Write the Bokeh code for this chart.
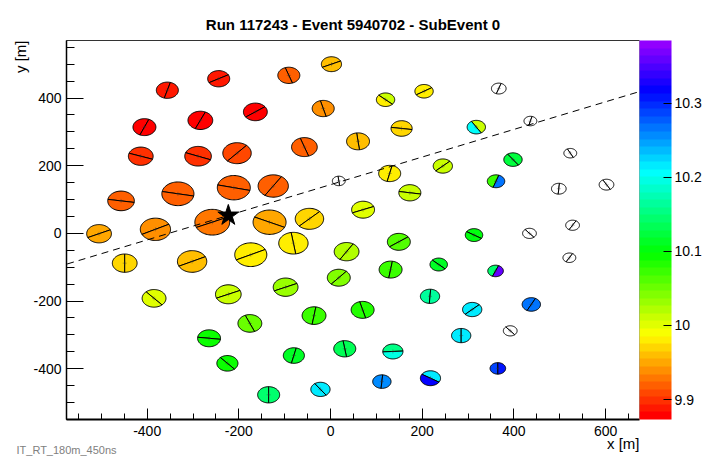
import colorsys
import numpy as np
from bokeh.plotting import figure
from bokeh.models import (Range1d, ColumnDataSource, LinearColorMapper, ColorBar,
                          FixedTicker, SingleIntervalTicker, PrintfTickFormatter,
                          Arrow, Title)
from bokeh.embed import file_html
from bokeh.resources import INLINE

nan = float("nan")

title_text = "Run 117243 - Event 5940702 - SubEvent 0"
x_label = "x [m]"
y_label = "y [m]"
footer_text = "IT_RT_180m_450ns"

# station centres [m], radius (charge) [m], tank-split angle [deg], tank times
stn_x = [-244, -356, -406, -284, -164, -414, -289, -204, -457, -333, -211, -258, -382, -505,
         2, -91, -16, -57, -125, 60, 18, 120, 204, 155, 129, 173, 71, -133, -46, 245,
         367, 436, 318, 398, 361, 523, 498, 602, 528, 434, 313, 149, 35, -81, -174,
         -449, -302, -385, -223, -98, 18, 131, 236, 217, 70, -36, -176, -265, 31, -80,
         -225, 136, 218, 112, -22, -135, 360, 309, 438, 392, 285, 365, 521]
stn_y = [457, 423, 314, 334, 359, 228, 228, 237, 96, 117, 135, 33, 12, -1,
         500, 467, 369, 255, 140, 272, 155, 395, 420, 310, 177, 120, 70, 33, 43, 199,
         428, 332, 314, 218, 154, 237, 132, 144, 24, 0, -5, -25, -54, -29, -63,
         -88, -83, -192, -180, -159, -131, -107, -92, -186, -226, -243, -266, -310, -341, -361,
         -384, -349, -428, -438, -461, -477, -111, -225, -210, -288, -302, -399, -72]
stn_r = [24, 24, 25, 27, 26, 27, 29, 31, 29, 35, 36, 38, 33, 27,
         22, 24, 24, 28, 33, 25, 14, 20, 20, 23, 24, 24, 25, 36, 31, 21,
         16, 14, 20, 20, 19, 14, 16, 16, 15, 15, 19, 25, 27, 32, 35,
         27, 32, 26, 28, 27, 25, 25, 19, 21, 25, 26, 26, 25, 24, 23,
         23, 22, 22, 20, 21, 24, 17, 21, 20, 15, 21, 17, 14]
tank_angle = [29, 74, 67, 66, 36, -19, -21, 48, -9, -11, -13, 24, 27, 25,
              25, -71, -75, -71, 57, -83, -83, -42, 32, -8, 77, -9, 22, -25, 44, 43,
              71, 75, -58, -54, 71, -63, 85, -60, 60, -50, -32, 36, 58, -81, 26,
              90, 26, -48, 24, 24, 49, 81, -43, 86, -75, 81, -67, -7, -81, 77,
              -48, 3, -32, 85, -54, 90, 67, 43, 63, -50, 90, 90, 60]
tank_a_time = [9.888, 9.891, 9.882, 9.875, 9.878, 9.895, 9.899, 9.904, 9.917, 9.921, 9.922, 9.932, 9.942, 9.952,
               9.959, 9.915, 9.941, 9.924, 9.922, 9.957, nan, 10.010, 9.979, 9.975, 9.979, 10.010, 10.005, 9.953, 9.972, 10.016,
               nan, nan, 10.016, 10.120, 10.074, nan, nan, nan, nan, nan, 10.102, 10.065, 10.019, 9.979, 9.977,
               9.968, 9.964, 10.005, 10.016, 10.028, 10.041, 10.070, 10.111, 10.166, 10.083, 10.074, 10.056, 10.089, 10.138, 10.111,
               10.092, 10.156, 10.220, 10.261, 10.211, 10.147, 10.147, 10.217, 10.266, nan, 10.220, 10.284, nan]
tank_b_time = [9.888, 9.891, 9.882, 9.875, 9.878, 9.895, 9.899, 9.904, 9.917, 9.921, 9.922, 9.932, 9.942, 9.952,
               9.959, 9.915, 9.941, 9.924, 9.922, 9.957, nan, 9.977, 9.979, 9.975, 9.979, 10.010, 10.005, 9.953, 9.972, 10.016,
               nan, nan, 10.208, 10.120, 10.266, nan, nan, nan, nan, nan, 10.102, 10.065, 10.019, 9.979, 9.977,
               9.968, 9.964, 10.005, 10.016, 10.028, 10.041, 10.070, 10.111, 10.166, 10.083, 10.074, 10.056, 10.089, 10.138, 10.111,
               10.092, 10.198, 10.321, 10.261, 10.211, 10.147, 10.363, 10.217, 10.266, nan, 10.220, 10.308, nan]

core_x, core_y = -223, 53
axis_dir_deg = 22.2
axis_x_extent = [-700, 700]

cbar_ticks = [9.9, 10.0, 10.1, 10.2, 10.3]
t_low, t_high = 9.873, 10.385

# ROOT "pretty" palette (50 HLS colours), red for low values
palette = []
for i in range(50):
    hue = i * 280.0 / 50
    r, g, b = colorsys.hls_to_rgb(hue / 360.0, 0.5, 1.0)
    palette.append("#%02x%02x%02x" % (round(r * 255), round(g * 255), round(b * 255)))

mapper = LinearColorMapper(palette=palette, low=t_low, high=t_high, nan_color="white")

# half-discs (one per tank) in data space
xs, ys, ts = [], [], []
for x, y, r, a, ta, tb in zip(stn_x, stn_y, stn_r, tank_angle, tank_a_time, tank_b_time):
    for start, t in ((a, ta), (a + 180, tb)):
        th = np.radians(np.linspace(start, start + 180, 41))
        xs.append(x + r * np.cos(th))
        ys.append(y + r * np.sin(th))
        ts.append(t)
src = ColumnDataSource(dict(xs=xs, ys=ys, t=np.array(ts, dtype=float)))

FONT = "Liberation Sans"

p = figure(width=709, height=458, output_backend="svg", toolbar_location=None,
           x_range=Range1d(-576, 674), y_range=Range1d(-550, 570),
           min_border_left=66, min_border_right=70, min_border_top=40, min_border_bottom=39)
p.xgrid.visible = False
p.ygrid.visible = False
p.background_fill_color = "white"
p.border_fill_color = "white"
p.outline_line_color = "#333333"
p.outline_line_width = 1

p.title.text = title_text
p.title.align = "center"
p.title.offset = 7
p.title.text_font = FONT
p.title.text_font_style = "bold"
p.title.text_font_size = "15px"
p.title.text_color = "black"
p.title.standoff = 15

p.xaxis.ticker = SingleIntervalTicker(interval=200, num_minor_ticks=4)
p.yaxis.ticker = SingleIntervalTicker(interval=200, num_minor_ticks=4)
for ax in (p.xaxis[0], p.yaxis[0]):
    ax.formatter = PrintfTickFormatter(format="%d")
    ax.major_tick_out = 0
    ax.minor_tick_out = 0
    ax.major_label_text_font = FONT
    ax.major_label_text_font_size = "14px"
    ax.major_label_text_color = "black"
    ax.axis_line_color = "black"
    ax.major_tick_line_color = "black"
    ax.minor_tick_line_color = "black"
p.xaxis.major_tick_in = 11
p.xaxis.minor_tick_in = 6
p.xaxis.axis_line_width = 2
p.xaxis.major_label_standoff = 6
p.yaxis.major_tick_in = 17
p.yaxis.minor_tick_in = 8
p.yaxis.axis_line_width = 1.5
p.yaxis.major_label_standoff = 5

p.patches("xs", "ys", source=src,
          fill_color={"field": "t", "transform": mapper},
          line_color="black", line_width=1)
p.scatter(stn_x, stn_y, marker="cross", size=4, line_color="#333333", line_width=0.6, line_alpha=0.6)

slope = np.tan(np.radians(axis_dir_deg))
ax_y = [core_y + slope * (xe - core_x) for xe in axis_x_extent]
p.add_layout(Arrow(end=None, x_start=axis_x_extent[0], y_start=ax_y[0],
                   x_end=axis_x_extent[1], y_end=ax_y[1],
                   line_color="black", line_width=1, line_dash="7 5"))
p.scatter([core_x], [core_y], marker="star", size=22, fill_color="black", line_color="black")

cb = ColorBar(color_mapper=mapper, ticker=FixedTicker(ticks=cbar_ticks),
              formatter=PrintfTickFormatter(format="%g"),
              location="top_left",
              width=32, padding=0, margin=4, label_standoff=3,
              major_tick_in=8, major_tick_out=0, major_tick_line_color="black",
              major_label_text_font=FONT, major_label_text_font_size="14px",
              major_label_text_color="black", bar_line_color=None)
p.add_layout(cb, "right")

p.add_layout(Title(text=y_label, align="right", text_font=FONT, text_font_size="15px",
                   text_font_style="normal", text_color="black", standoff=4), "left")
p.add_layout(Title(text=x_label, align="right", vertical_align="top", text_font=FONT,
                   text_font_size="15px", text_font_style="normal", text_color="black",
                   standoff=-8), "below")
p.add_layout(Title(text=footer_text, align="left", vertical_align="top", offset=-50,
                   text_font=FONT, text_font_size="11px", text_font_style="normal",
                   text_color="#808080", standoff=-12), "below")

open("out.html", "w").write(file_html(p, INLINE))
